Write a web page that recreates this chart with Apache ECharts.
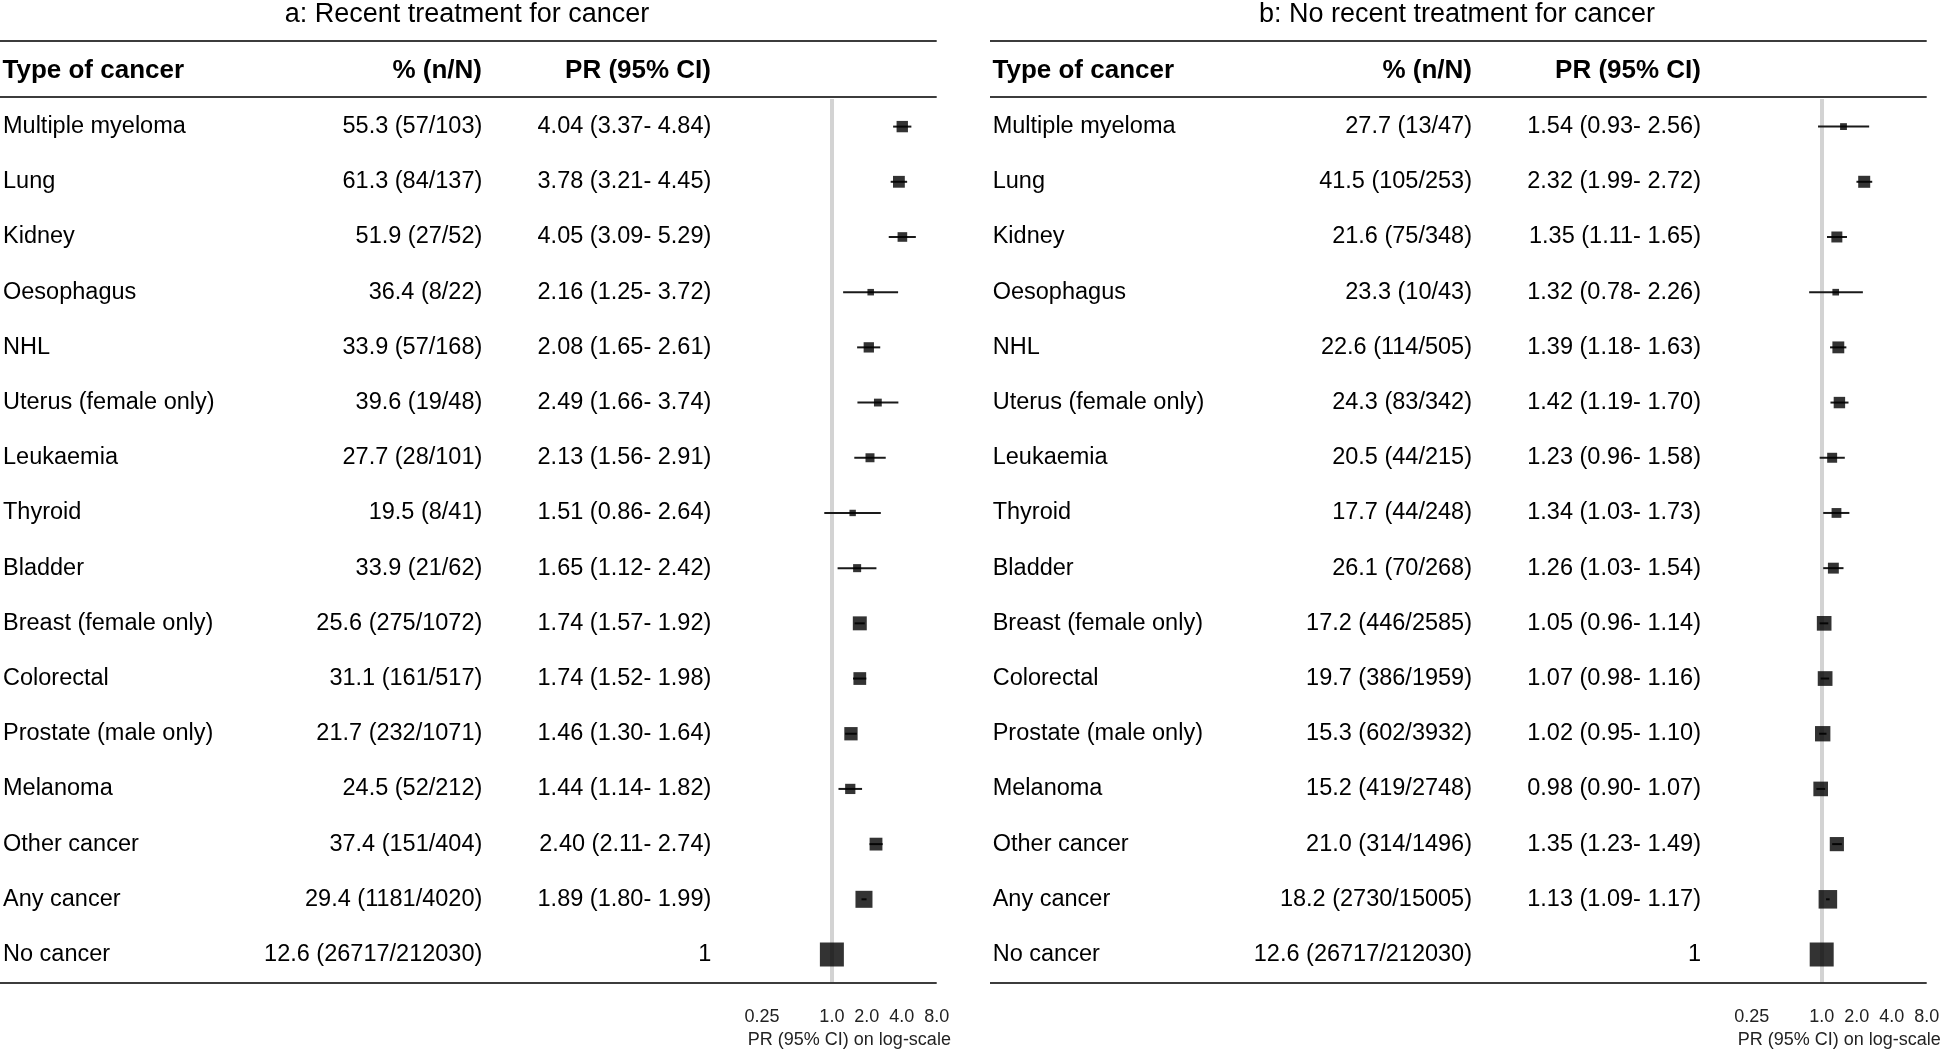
<!DOCTYPE html>
<html>
<head>
<meta charset="utf-8">
<title>Forest plot</title>
<script src="https://cdn.jsdelivr.net/npm/echarts@6/dist/echarts.min.js"></script>
<style>
  html, body { margin: 0; padding: 0; background: #fff; }
  #main { width: 1946px; height: 1054px; }
</style>
</head>
<body>
<div id="main"></div>
<script>
// rows, top to bottom
var types = ["Multiple myeloma", "Lung", "Kidney", "Oesophagus", "NHL", "Uterus (female only)",
  "Leukaemia", "Thyroid", "Bladder", "Breast (female only)", "Colorectal", "Prostate (male only)",
  "Melanoma", "Other cancer", "Any cancer", "No cancer"];

// a: recent treatment for cancer
var pctA = [55.3, 61.3, 51.9, 36.4, 33.9, 39.6, 27.7, 19.5, 33.9, 25.6, 31.1, 21.7, 24.5, 37.4, 29.4, 12.6];
var nA = [57, 84, 27, 8, 57, 19, 28, 8, 21, 275, 161, 232, 52, 151, 1181, 26717];
var totA = [103, 137, 52, 22, 168, 48, 101, 41, 62, 1072, 517, 1071, 212, 404, 4020, 212030];
var prA = [4.04, 3.78, 4.05, 2.16, 2.08, 2.49, 2.13, 1.51, 1.65, 1.74, 1.74, 1.46, 1.44, 2.40, 1.89, 1];
var loA = [3.37, 3.21, 3.09, 1.25, 1.65, 1.66, 1.56, 0.86, 1.12, 1.57, 1.52, 1.30, 1.14, 2.11, 1.80, 1];
var hiA = [4.84, 4.45, 5.29, 3.72, 2.61, 3.74, 2.91, 2.64, 2.42, 1.92, 1.98, 1.64, 1.82, 2.74, 1.99, 1];

// b: no recent treatment for cancer
var pctB = [27.7, 41.5, 21.6, 23.3, 22.6, 24.3, 20.5, 17.7, 26.1, 17.2, 19.7, 15.3, 15.2, 21.0, 18.2, 12.6];
var nB = [13, 105, 75, 10, 114, 83, 44, 44, 70, 446, 386, 602, 419, 314, 2730, 26717];
var totB = [47, 253, 348, 43, 505, 342, 215, 248, 268, 2585, 1959, 3932, 2748, 1496, 15005, 212030];
var prB = [1.54, 2.32, 1.35, 1.32, 1.39, 1.42, 1.23, 1.34, 1.26, 1.05, 1.07, 1.02, 0.98, 1.35, 1.13, 1];
var loB = [0.93, 1.99, 1.11, 0.78, 1.18, 1.19, 0.96, 1.03, 1.03, 0.96, 0.98, 0.95, 0.90, 1.23, 1.09, 1];
var hiB = [2.56, 2.72, 1.65, 2.26, 1.63, 1.70, 1.58, 1.73, 1.54, 1.14, 1.16, 1.10, 1.07, 1.49, 1.17, 1];

var panelTitles = ["a: Recent treatment for cancer", "b: No recent treatment for cancer"];
var headers = ["Type of cancer", "% (n/N)", "PR (95% CI)"];

var FONT = "'Liberation Sans', Arial, Helvetica, sans-serif";
var RULE = "#3c3c3c";

function pctText(p, n, t) {
  return p.map(function (v, i) { return v.toFixed(1) + " (" + n[i] + "/" + t[i] + ")"; });
}
function prText(pr, lo, hi) {
  return pr.map(function (v, i) {
    if (lo[i] === hi[i]) return String(v);
    return v.toFixed(2) + " (" + lo[i].toFixed(2) + "- " + hi[i].toFixed(2) + ")";
  });
}
// box size grows with precision of the estimate (narrower CI -> bigger box)
function boxSize(lo, hi) {
  if (lo === hi) return 24;
  var w = Math.log(hi / lo);
  return Math.max(5, 6.9 + 4.4 * Math.log(1 / w));
}

var panels = [
  { pct: pctA, n: nA, tot: totA, pr: prA, lo: loA, hi: hiA, dx: 0 },
  { pct: pctB, n: nB, tot: totB, pr: prB, lo: loB, hi: hiB, dx: 990 }
];

var myChart = echarts.init(document.getElementById("main"));

var title = [], grid = [], xAxis = [], yAxis = [], series = [], graphic = [];

panels.forEach(function (p, k) {
  var left = 761.7 + p.dx;
  title.push({
    text: panelTitles[k], left: 467 + p.dx, top: 1, padding: 0, textAlign: "center",
    textStyle: { fontSize: 27, fontWeight: "normal", color: "#000", fontFamily: FONT }
  });
  grid.push({ left: left, top: 99, width: 175, height: 884 });
  xAxis.push({
    gridIndex: k, type: "log", logBase: 2, min: 0.25, max: 8,
    name: "PR (95% CI) on log-scale", nameLocation: "middle", nameGap: 48,
    nameTextStyle: { fontSize: 18, color: "#222", fontFamily: FONT },
    axisLine: { lineStyle: { color: RULE, width: 2 } },
    axisTick: { length: 11, lineStyle: { color: RULE, width: 2 } },
    axisLabel: {
      margin: 26, fontSize: 18, color: "#222", fontFamily: FONT, hideOverlap: false,
      formatter: function (v) {
        if (Math.abs(v - 0.5) < 1e-9) return "";
        return v < 1 ? String(+v.toFixed(2)) : v.toFixed(1);
      }
    },
    splitLine: { show: false }
  });
  // three text columns as y-axis labels
  var cols = [
    { data: types, margin: 759, align: "left" },
    { data: pctText(p.pct, p.n, p.tot), margin: 761.7 - 482, align: "right" },
    { data: prText(p.pr, p.lo, p.hi), margin: 761.7 - 711, align: "right" }
  ];
  cols.forEach(function (c) {
    yAxis.push({
      gridIndex: k, type: "category", data: c.data, inverse: true, position: "left",
      axisLine: { show: false }, axisTick: { show: false }, splitLine: { show: false },
      axisLabel: { interval: 0, margin: c.margin, align: c.align, fontSize: 23.5, color: "#000", fontFamily: FONT }
    });
  });
  var yIdx = k * 3;
  series.push({
    type: "custom", xAxisIndex: k, yAxisIndex: yIdx, z: 2, silent: true,
    data: types.map(function (t, i) { return [i, p.lo[i], p.hi[i]]; }),
    encode: { y: 0, x: [1, 2] },
    renderItem: function (params, api) {
      var a = api.coord([api.value(1), api.value(0)]);
      var b = api.coord([api.value(2), api.value(0)]);
      return {
        type: "line",
        shape: { x1: a[0], y1: a[1], x2: b[0], y2: b[1] },
        style: { stroke: "#1a1a1a", lineWidth: 2 }
      };
    },
    markLine: {
      silent: true, symbol: "none", z: 1,
      label: { show: false },
      lineStyle: { color: "#d3d3d3", width: 4, type: "solid" },
      data: [{ xAxis: 1 }]
    }
  });
  series.push({
    type: "scatter", xAxisIndex: k, yAxisIndex: yIdx, z: 3, silent: true,
    symbol: "rect",
    data: p.pr.map(function (v, i) { return [v, i]; }),
    symbolSize: function (val, params) { return boxSize(p.lo[params.dataIndex], p.hi[params.dataIndex]); },
    itemStyle: { color: "#000" }
  });
  // table rules and header row
  [41, 97, 983].forEach(function (y) {
    graphic.push({
      type: "line", z: 0, silent: true,
      shape: { x1: p.dx, y1: y, x2: 936.7 + p.dx, y2: y },
      style: { stroke: RULE, lineWidth: 2 }
    });
  });
  var hx = [2.5 + p.dx, 482 + p.dx, 711 + p.dx];
  var ha = ["left", "right", "right"];
  headers.forEach(function (h, i) {
    graphic.push({
      type: "text", x: hx[i], y: 70.5, silent: true,
      style: {
        text: h, align: ha[i], verticalAlign: "middle",
        fontSize: 26, fontWeight: "bold", fontFamily: FONT, fill: "#000"
      }
    });
  });
});

var option = {
  animation: false,
  backgroundColor: "#fff",
  title: title,
  grid: grid,
  xAxis: xAxis,
  yAxis: yAxis,
  series: series,
  graphic: graphic
};
myChart.setOption(option);
</script>
</body>
</html>
